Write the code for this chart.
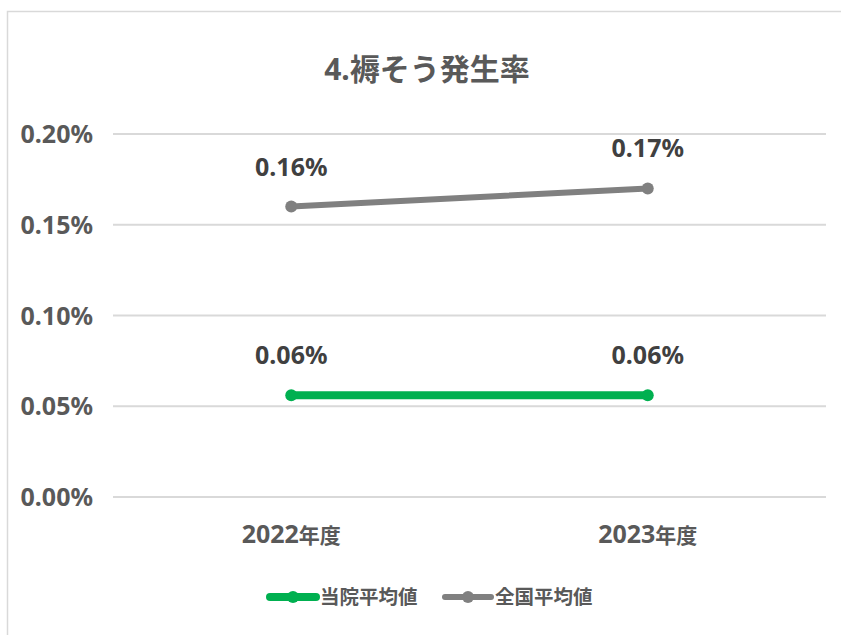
<!DOCTYPE html>
<html>
<head>
<meta charset="utf-8">
<script src="https://cdn.jsdelivr.net/npm/d3@7"></script>
<style>
  html, body { margin: 0; padding: 0; background: #fff; }
  svg { display: block; }
</style>
</head>
<body>
<div id="chart"></div>
<script>
const categories = ['2022年度', '2023年度']
const hospital = [0.056, 0.056]
const national = [0.16, 0.17]
const yTicks = [0, 0.05, 0.1, 0.15, 0.2]
const seriesNames = ['当院平均値', '全国平均値']
const seriesColors = ['#00b050', '#808080']
const title = '4.褥そう発生率'

const W = 841
const H = 635
const margin = { top: 134, left: 113, right: 15, bottom: 138 }
const numFont = '"Noto Sans", "Noto Sans CJK JP", sans-serif'
const cjkFont = '"Noto Sans CJK JP", "Noto Sans", sans-serif'

const svg = d3
  .select('#chart')
  .append('svg')
  .attr('width', W)
  .attr('height', H)

svg.append('rect').attr('width', W).attr('height', H).attr('fill', '#fff')

// chart area border (only top and left are visible in the crop)
svg
  .append('path')
  .attr('d', `M7.5,${H} V11.5 H${W}`)
  .attr('fill', 'none')
  .attr('stroke', '#d9d9d9')
  .attr('stroke-width', 1.5)

const x = d3
  .scalePoint()
  .domain(categories)
  .range([margin.left, W - margin.right])
  .padding(0.5)

const y = d3
  .scaleLinear()
  .domain([0, 0.2])
  .range([H - margin.bottom, margin.top])

// gridlines
svg
  .append('g')
  .selectAll('line')
  .data(yTicks)
  .join('line')
  .attr('x1', margin.left)
  .attr('x2', W - margin.right)
  .attr('y1', d => y(d))
  .attr('y2', d => y(d))
  .attr('stroke', '#d9d9d9')
  .attr('stroke-width', 2)

// y tick labels
svg
  .append('g')
  .selectAll('text')
  .data(yTicks)
  .join('text')
  .attr('x', 93)
  .attr('y', d => y(d) + 9)
  .attr('text-anchor', 'end')
  .style('font-family', numFont)
  .style('font-weight', 'bold')
  .style('font-size', '25px')
  .attr('fill', '#595959')
  .text(d => d.toFixed(2) + '%')

// x labels
const xl = svg
  .append('g')
  .selectAll('text')
  .data(categories)
  .join('text')
  .attr('x', d => x(d))
  .attr('y', 543)
  .attr('text-anchor', 'middle')
  .style('font-family', numFont)
  .style('font-weight', 'bold')
  .style('font-size', '25px')
  .attr('fill', '#595959')
xl.append('tspan').text(d => d.slice(0, 4))
xl.append('tspan')
  .style('font-family', cjkFont)
  .style('font-size', '21px')
  .text(d => d.slice(4))

// title
svg
  .append('text')
  .attr('x', 427)
  .attr('y', 80)
  .attr('text-anchor', 'middle')
  .style('font-family', numFont)
  .style('font-weight', 'bold')
  .style('font-size', '30px')
  .attr('fill', '#595959')
  .text(title)

const series = [
  { name: seriesNames[0], values: hospital, color: seriesColors[0], width: 8, r: 6 },
  { name: seriesNames[1], values: national, color: seriesColors[1], width: 6, r: 6 }
]

const line = d3
  .line()
  .x((d, i) => x(categories[i]))
  .y(d => y(d))

const sg = svg
  .append('g')
  .selectAll('g')
  .data(series)
  .join('g')

sg.append('path')
  .attr('d', d => line(d.values))
  .attr('fill', 'none')
  .attr('stroke', d => d.color)
  .attr('stroke-width', d => d.width)
  .attr('stroke-linecap', 'round')

sg.selectAll('circle')
  .data(d => d.values.map(v => ({ v, s: d })))
  .join('circle')
  .attr('cx', (d, i) => x(categories[i]))
  .attr('cy', d => y(d.v))
  .attr('r', d => d.s.r)
  .attr('fill', d => d.s.color)

sg.selectAll('text')
  .data(d => d.values)
  .join('text')
  .attr('x', (d, i) => x(categories[i]))
  .attr('y', d => y(d) - 31)
  .attr('text-anchor', 'middle')
  .style('font-family', numFont)
  .style('font-weight', 'bold')
  .style('font-size', '25px')
  .attr('fill', '#404040')
  .text(d => d.toFixed(2) + '%')

// legend
const legendX = [270, 445]
const legendY = 597
const lg = svg
  .append('g')
  .selectAll('g')
  .data(series)
  .join('g')
  .attr('transform', (d, i) => `translate(${legendX[i]},${legendY})`)

lg.append('line')
  .attr('x1', 0)
  .attr('x2', 46)
  .attr('stroke', d => d.color)
  .attr('stroke-width', d => d.width)
  .attr('stroke-linecap', 'round')
lg.append('circle')
  .attr('cx', 23)
  .attr('r', d => d.r)
  .attr('fill', d => d.color)
lg.append('text')
  .attr('x', 50)
  .attr('dy', '0.35em')
  .style('font-family', cjkFont)
  .style('font-weight', 'bold')
  .style('font-size', '19.5px')
  .attr('fill', '#595959')
  .text(d => d.name)
</script>
</body>
</html>
